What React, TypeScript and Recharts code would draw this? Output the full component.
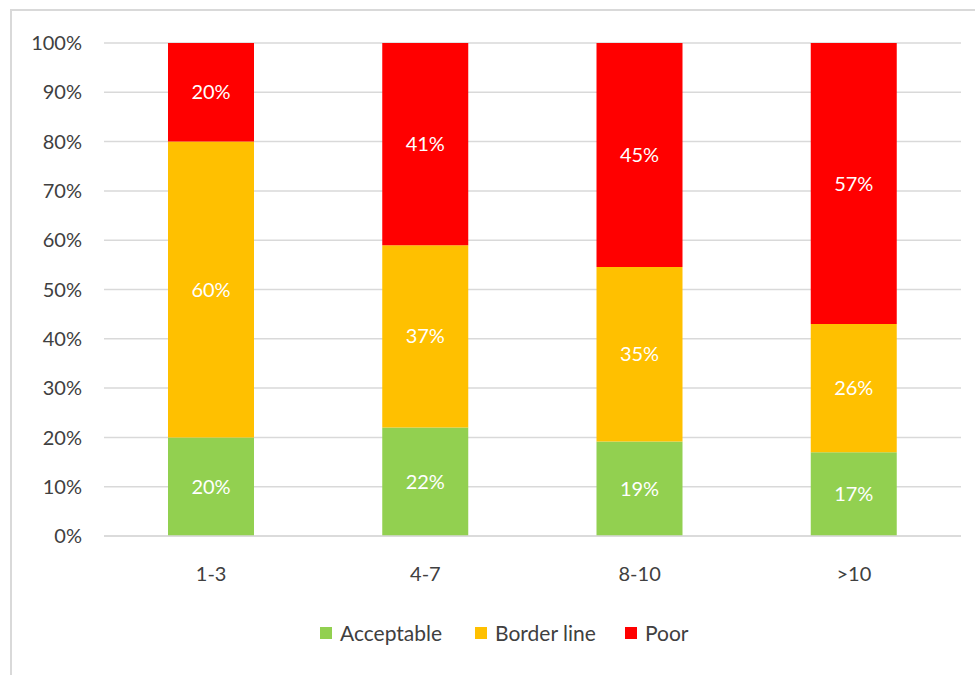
import { BarChart, Bar, XAxis, YAxis, CartesianGrid, Legend, LabelList } from "recharts";

document.body.style.margin = "0";

const bands = ["1-3", "4-7", "8-10", ">10"];
const acceptable = [20, 22, 19, 17];
const borderLine = [60, 37, 35, 26];
const poor = [20, 41, 45, 57];
const yTicks = [0, 0.1, 0.2, 0.3, 0.4, 0.5, 0.6, 0.7, 0.8, 0.9, 1];

const series = [
  { key: "acceptable", name: "Acceptable", color: "#92D050" },
  { key: "borderLine", name: "Border line", color: "#FFC000" },
  { key: "poor", name: "Poor", color: "#FF0000" },
];

const data = bands.map((band, i) => ({
  band,
  acceptable: acceptable[i],
  borderLine: borderLine[i],
  poor: poor[i],
}));

const FONT = "Lato, 'Open Sans', sans-serif";
const TEXT = "#404040";

// legend slots are fixed-width so the swatches sit at even steps
const legendSlots = [155, 150, 80];

function LegendRow() {
  return (
    <div
      style={{
        display: "flex",
        paddingLeft: 320,
        fontFamily: FONT,
        fontSize: 21,
        color: TEXT,
        lineHeight: "24px",
      }}
    >
      {series.map((s, i) => (
        <div key={s.key} style={{ display: "flex", alignItems: "center", width: legendSlots[i] }}>
          <span style={{ width: 12, height: 12, background: s.color, display: "inline-block", marginRight: 8 }} />
          <span>{s.name}</span>
        </div>
      ))}
    </div>
  );
}

export default function App() {
  return (
    <div style={{ position: "relative", width: 975, height: 675, background: "#fff", overflow: "hidden" }}>
      <div
        style={{
          position: "absolute",
          left: 10,
          top: 9,
          width: 990,
          height: 700,
          border: "2px solid #D9D9D9",
        }}
      />
      <BarChart
        width={975}
        height={675}
        data={data}
        stackOffset="expand"
        barSize={86}
        margin={{ top: 43, right: 14, bottom: 85, left: 0 }}
      >
        <CartesianGrid vertical={false} stroke="#D9D9D9" strokeWidth={1.5} />
        <XAxis
          dataKey="band"
          axisLine={{ stroke: "#D9D9D9", strokeWidth: 1.5 }}
          tickLine={false}
          tickSize={0}
          tickMargin={31}
          tick={{ fill: TEXT, fontSize: 20, fontFamily: FONT }}
        />
        <YAxis
          width={104}
          domain={[0, 1]}
          ticks={yTicks}
          tickFormatter={(v: number) => `${Math.round(v * 100)}%`}
          axisLine={false}
          tickLine={false}
          tickSize={0}
          tickMargin={22}
          tick={{ fill: TEXT, fontSize: 20, fontFamily: FONT }}
        />
        <Legend
          verticalAlign="bottom"
          content={() => <LegendRow />}
          wrapperStyle={{ top: 621, left: 0, width: 975 }}
        />
        {series.map((s) => (
          <Bar key={s.key} dataKey={s.key} name={s.name} stackId="a" fill={s.color} isAnimationActive={false}>
            <LabelList
              dataKey={s.key}
              position="center"
              fill="#FFFFFF"
              fontSize={20}
              fontFamily={FONT}
              formatter={(v: any) => `${v}%`}
            />
          </Bar>
        ))}
      </BarChart>
    </div>
  );
}
